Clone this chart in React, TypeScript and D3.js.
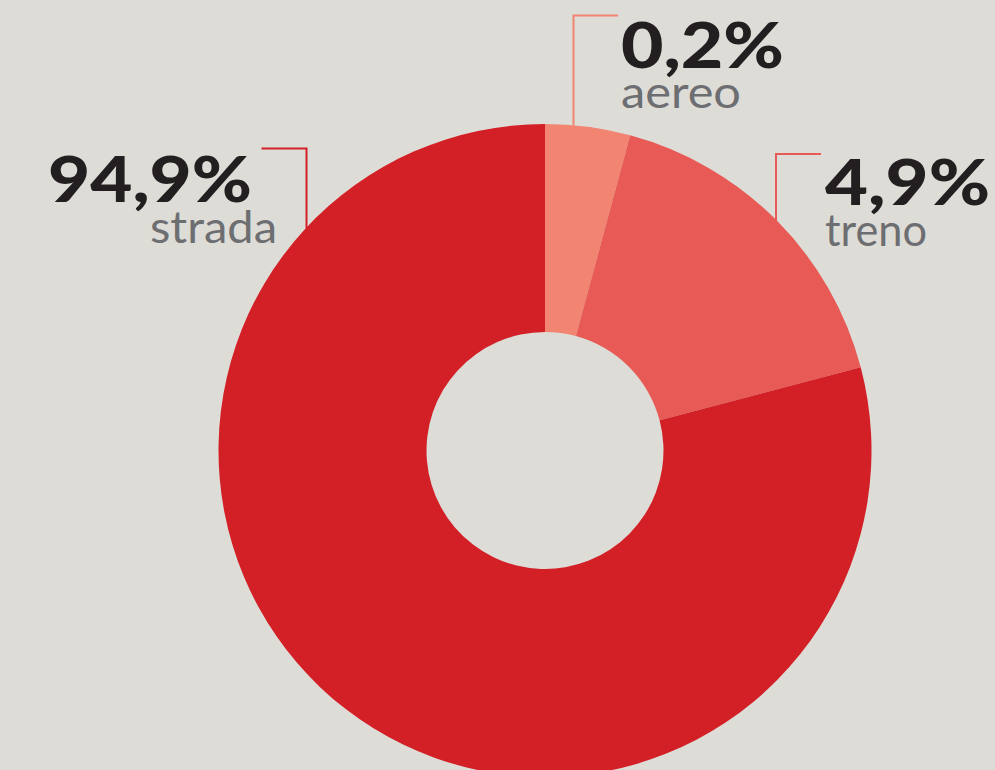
import React from "react";
import * as d3 from "d3";

// categories and displayed percentages
const categories = ["aereo", "treno", "strada"];
const percentLabels = ["0,2%", "4,9%", "94,9%"];
// arc sizes as drawn in the reference picture (share of the circle, %)
const arcShares = [4.2, 16.7, 79.1];
const colors = ["#f28472", "#e85a55", "#d32027"];

const W = 995;
const H = 770;
const CX = 545;
const CY = 450.5;
const R_OUT = 326.5;
const R_IN = 118.5;

// label layout: leader x, leader top y, horizontal end x, text x, number baseline, name baseline, number width
const labelLayout = [
  { lx: 573.5, ly: 15.5, hx: 618, tx: 621, nb: 68, wb: 108, nw: 163, ww: 120 },
  { lx: 776, ly: 154, hx: 821, tx: 825, nb: 205, wb: 246, nw: 165, ww: 102 },
  { lx: 306.5, ly: 148.5, hx: 261.5, tx: 48, nb: 202, wb: 243, nw: 204, ww: 127, wx: 150 },
];

export default function App() {
  const pie = d3
    .pie<number>()
    .sort(null)
    .value((d) => d)
    .startAngle(0)
    .endAngle(2 * Math.PI);
  const arcs = pie(arcShares);
  const arcGen = d3.arc<d3.PieArcDatum<number>>().innerRadius(R_IN).outerRadius(R_OUT);

  return (
    <svg
      width={W}
      height={H}
      style={{ position: "absolute", left: 0, top: 0, display: "block" }}
    >
      <rect x={0} y={0} width={W} height={H} fill="#dddcd7" />
      <g transform={`translate(${CX},${CY})`}>
        {arcs.map((a, i) => (
          <path key={categories[i]} d={arcGen(a) || ""} fill={colors[i]} />
        ))}
      </g>
      {categories.map((c, i) => {
        const L = labelLayout[i];
        const dx = L.lx - CX;
        const yEnd = CY - Math.sqrt(R_OUT * R_OUT - dx * dx) + 1;
        return (
          <g key={c}>
            <path
              d={`M${L.hx},${L.ly}H${L.lx}V${yEnd}`}
              fill="none"
              stroke={colors[i]}
              strokeWidth={2}
            />
            <text
              x={L.tx}
              y={L.nb}
              fontFamily="Lato, 'DejaVu Sans', sans-serif"
              fontWeight={900}
              fontSize={62}
              fill="#231f20"
              textLength={L.nw}
              lengthAdjust="spacingAndGlyphs"
            >
              {percentLabels[i]}
            </text>
            <text
              x={(L as any).wx ?? L.tx}
              y={L.wb}
              fontFamily="Lato, 'DejaVu Sans', sans-serif"
              fontWeight={400}
              fontSize={44}
              fill="#6d6e71"
              textLength={L.ww}
              lengthAdjust="spacingAndGlyphs"
            >
              {c}
            </text>
          </g>
        );
      })}
    </svg>
  );
}
